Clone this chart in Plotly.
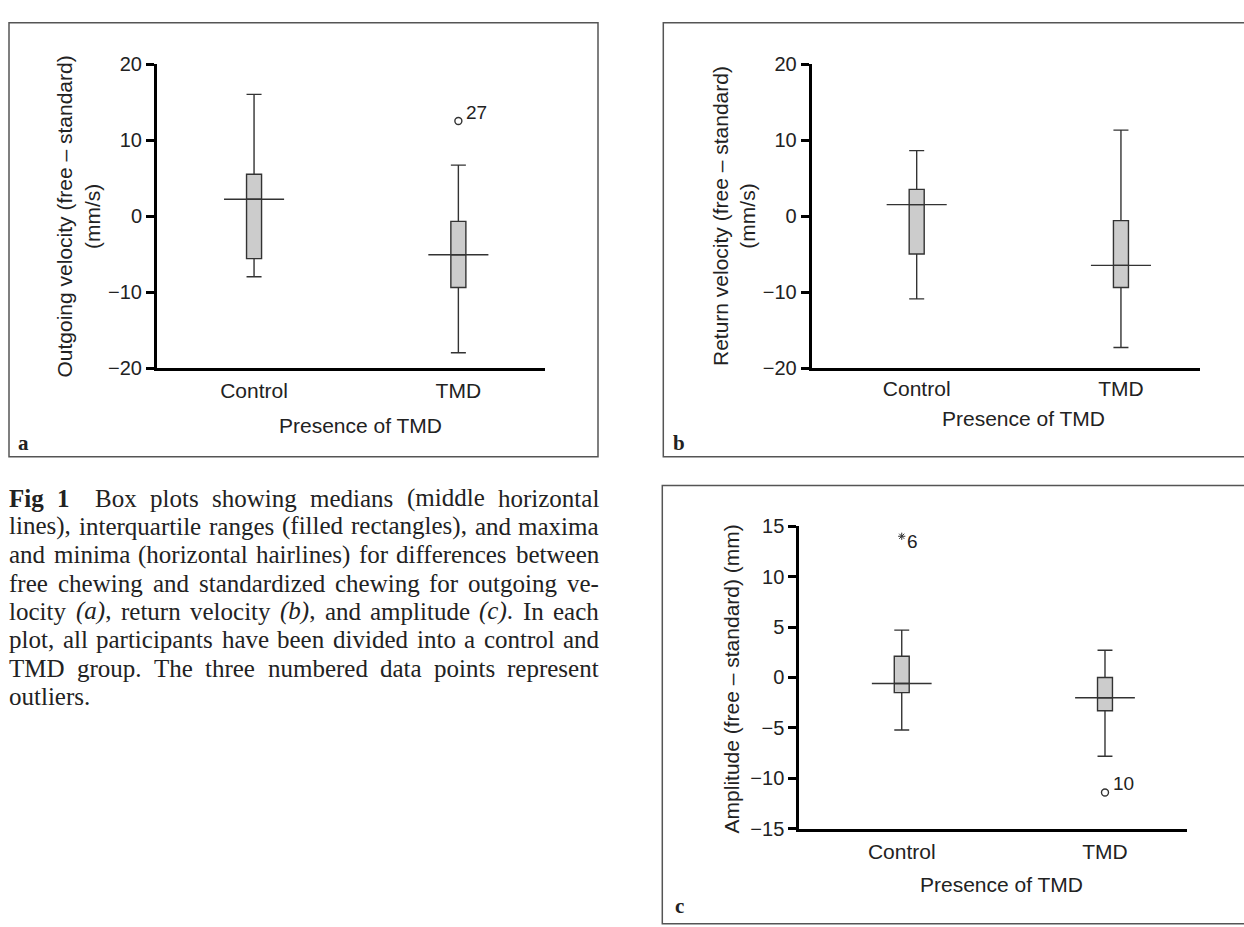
import plotly.graph_objects as go

W, H = 1244, 927

groups = ["Control", "TMD"]
group_pos = [0, 1]

# Panel a: outgoing velocity (free - standard), mm/s
a_q1 = [-5.6, -9.4]
a_median = [2.2, -5.1]
a_q3 = [5.5, -0.7]
a_low = [-8.0, -18.0]
a_high = [16.0, 6.7]
a_out_group = [1]
a_out_val = [12.5]
a_out_label = ["27"]

# Panel b: return velocity (free - standard), mm/s
b_q1 = [-5.0, -9.4]
b_median = [1.5, -6.5]
b_q3 = [3.5, -0.6]
b_low = [-10.9, -17.3]
b_high = [8.6, 11.3]

# Panel c: amplitude (free - standard), mm
c_q1 = [-1.5, -3.3]
c_median = [-0.6, -2.0]
c_q3 = [2.1, 0.0]
c_low = [-5.2, -7.8]
c_high = [4.7, 2.7]
c_out_group = [1]
c_out_val = [-11.4]
c_out_label = ["10"]
c_ext_group = [0]
c_ext_val = [14.0]
c_ext_label = ["6"]

a_ticks = [-20, -10, 0, 10, 20]
b_ticks = [-20, -10, 0, 10, 20]
c_ticks = [-15, -10, -5, 0, 5, 10, 15]

a_ytitle = "Outgoing velocity (free – standard)<br>(mm/s)"
b_ytitle = "Return velocity (free – standard)<br>(mm/s)"
c_ytitle = "Amplitude (free – standard) (mm)"
xtitle = "Presence of TMD"

caption_lines = [
    "<b>Fig 1</b>   Box plots showing medians (middle horizontal",
    "lines), interquartile ranges (filled rectangles), and maxima",
    "and minima (horizontal hairlines) for differences between",
    "free chewing and standardized chewing for outgoing ve-",
    "locity <i>(a)</i>, return velocity <i>(b)</i>, and amplitude <i>(c)</i>. In each",
    "plot, all participants have been divided into a control and",
    "TMD group. The three numbered data points represent",
    "outliers.",
]

# ---------------- style ----------------
SANS = "Liberation Sans, Arial, sans-serif"
SERIF = "Liberation Serif, Times New Roman, serif"
TXT = "#222222"
BOXLINE = "#333333"
BOX_W = 0.0735
MED_HALF = 0.0735

CAP_SIZE = 25
CAP_LEFT = 8.3
CAP_RIGHT = 598.0
CAP_TOP = 499
CAP_STEP = 29

# Times/Liberation Serif advance widths (per 1000 em)
_REG = {" ": 250, "(": 333, ")": 333, ",": 250, "-": 333, ".": 250, "1": 500,
        "a": 444, "b": 500, "c": 444, "d": 500, "e": 444, "f": 333, "g": 500, "h": 500,
        "i": 278, "j": 278, "k": 500, "l": 278, "m": 778, "n": 500, "o": 500, "p": 500,
        "q": 500, "r": 333, "s": 389, "t": 278, "u": 500, "v": 500, "w": 722, "x": 500,
        "y": 500, "z": 444, "T": 611, "M": 889, "D": 722, "F": 556, "B": 667, "I": 333}
_BOLD = {"F": 611, "i": 278, "g": 500, "1": 500, " ": 250}
_ITAL = {"(": 333, ")": 333, "a": 500, "b": 500, "c": 444}


def char_w(ch, style):
    if style == "b":
        return _BOLD.get(ch, _REG.get(ch, 500))
    if style == "i":
        return _ITAL.get(ch, _REG.get(ch, 500))
    return _REG.get(ch, 500)


def tokenize(line):
    """split a marked-up line into tokens [(chars with style)] and gap weights"""
    tokens, gaps = [], []
    cur, style, spaces = [], "", 0
    i = 0
    while i < len(line):
        for tag, st in (("<b>", "b"), ("</b>", ""), ("<i>", "i"), ("</i>", "")):
            if line.startswith(tag, i):
                style = st
                i += len(tag)
                break
        else:
            ch = line[i]
            if ch == " ":
                if cur:
                    tokens.append(cur)
                    cur = []
                spaces += 1
            else:
                if spaces and tokens:
                    gaps.append(spaces)
                spaces = 0
                cur.append((ch, style))
            i += 1
    if cur:
        tokens.append(cur)
    return tokens, gaps


def token_markup(tok):
    out, cur_style, buf = [], None, ""
    for ch, st in tok:
        if st != cur_style:
            if buf:
                out.append(("<%s>%s</%s>" % (cur_style, buf, cur_style)) if cur_style else buf)
            buf, cur_style = "", st
        buf += ch
    if buf:
        out.append(("<%s>%s</%s>" % (cur_style, buf, cur_style)) if cur_style else buf)
    return "".join(out)


def token_width(tok):
    return sum(char_w(ch, st) for ch, st in tok) * CAP_SIZE / 1000.0


def xp(px):
    return px / W


def yp(py):
    return 1 - py / H


fig = go.Figure()

panels = [
    dict(ax="", q1=a_q1, med=a_median, q3=a_q3, lo=a_low, hi=a_high),
    dict(ax="2", q1=b_q1, med=b_median, q3=b_q3, lo=b_low, hi=b_high),
    dict(ax="3", q1=c_q1, med=c_median, q3=c_q3, lo=c_low, hi=c_high),
]

for p in panels:
    xa = "x" + p["ax"]
    ya = "y" + p["ax"]
    fig.add_trace(go.Box(
        x=group_pos, q1=p["q1"], median=p["med"], q3=p["q3"],
        lowerfence=p["lo"], upperfence=p["hi"],
        width=BOX_W, whiskerwidth=1.0, boxpoints=False,
        fillcolor="#cccccc", line=dict(color=BOXLINE, width=1.4),
        xaxis=xa, yaxis=ya, showlegend=False, hoverinfo="skip",
    ))
    mx, my = [], []
    for g, m in zip(group_pos, p["med"]):
        mx += [g - MED_HALF * 2, g + MED_HALF * 2, None]
        my += [m, m, None]
    fig.add_trace(go.Scatter(
        x=mx, y=my, mode="lines", line=dict(color=BOXLINE, width=1.4),
        xaxis=xa, yaxis=ya, showlegend=False, hoverinfo="skip",
    ))

# outliers (circles)
fig.add_trace(go.Scatter(
    x=a_out_group, y=a_out_val, mode="markers",
    marker=dict(symbol="circle-open", size=7, color=BOXLINE, line=dict(width=1.4)),
    xaxis="x", yaxis="y", showlegend=False, hoverinfo="skip",
))
fig.add_trace(go.Scatter(
    x=c_out_group, y=c_out_val, mode="markers",
    marker=dict(symbol="circle-open", size=7, color=BOXLINE, line=dict(width=1.4)),
    xaxis="x3", yaxis="y3", showlegend=False, hoverinfo="skip",
))
# extreme value (asterisk)
fig.add_trace(go.Scatter(
    x=c_ext_group, y=c_ext_val, mode="markers",
    marker=dict(symbol="asterisk-open", size=6, color=BOXLINE, line=dict(width=1.0, color=BOXLINE)),
    xaxis="x3", yaxis="y3", showlegend=False, hoverinfo="skip",
))

annotations = []
for g, v, t in zip(a_out_group, a_out_val, a_out_label):
    annotations.append(dict(x=g, y=v, xref="x", yref="y", text=t, showarrow=False,
                            xanchor="left", yanchor="middle", xshift=6, yshift=9,
                            font=dict(family=SANS, size=19, color=TXT)))
for g, v, t in zip(c_out_group, c_out_val, c_out_label):
    annotations.append(dict(x=g, y=v, xref="x3", yref="y3", text=t, showarrow=False,
                            xanchor="left", yanchor="middle", xshift=6, yshift=9,
                            font=dict(family=SANS, size=19, color=TXT)))
for g, v, t in zip(c_ext_group, c_ext_val, c_ext_label):
    annotations.append(dict(x=g, y=v, xref="x3", yref="y3", text=t, showarrow=False,
                            xanchor="left", yanchor="middle", xshift=3, yshift=-5,
                            font=dict(family=SANS, size=19, color=TXT)))

# axis titles
for txt, cx, cy in [(a_ytitle, 78.5, 210), (b_ytitle, 734, 210), (c_ytitle, 731.7, 684)]:
    annotations.append(dict(x=xp(cx), y=yp(cy), xref="paper", yref="paper", text=txt,
                            showarrow=False, textangle=-90, xanchor="center", yanchor="middle",
                            font=dict(family=SANS, size=21, color=TXT)))
for cx, cy in [(360, 425), (1023, 417), (1002, 895)]:
    annotations.append(dict(x=xp(cx), y=yp(cy), xref="paper", yref="paper", text=xtitle,
                            showarrow=False, xanchor="center", yanchor="middle",
                            font=dict(family=SANS, size=21, color=TXT)))
# panel letters
for letter, cx, cy in [("a", 23, 443), ("b", 679, 442), ("c", 679, 917)]:
    annotations.append(dict(x=xp(cx), y=yp(cy), xref="paper", yref="paper", text="<b>%s</b>" % letter,
                            showarrow=False, xanchor="center", yanchor="middle",
                            font=dict(family=SERIF, size=21, color=TXT)))

# caption: justified lines (last line left-aligned), one text item per word
for li, line in enumerate(caption_lines):
    tokens, gaps = tokenize(line)
    widths = [token_width(t) for t in tokens]
    base_gaps = [g * char_w(" ", "") * CAP_SIZE / 1000.0 for g in gaps]
    if li < len(caption_lines) - 1 and gaps:
        extra = (CAP_RIGHT - CAP_LEFT - sum(widths) - sum(base_gaps)) / len(gaps)
    else:
        extra = 0.0
    x = CAP_LEFT
    ycen = CAP_TOP + CAP_STEP * li
    for k, tok in enumerate(tokens):
        annotations.append(dict(x=xp(x), y=yp(ycen), xref="paper", yref="paper",
                                text=token_markup(tok), showarrow=False,
                                xanchor="left", yanchor="middle", align="left", borderpad=0,
                                font=dict(family=SERIF, size=CAP_SIZE, color=TXT)))
        x += widths[k]
        if k < len(gaps):
            x += base_gaps[k] + extra

shapes = [
    dict(type="rect", xref="paper", yref="paper", x0=xp(9), x1=xp(598), y0=yp(456.7), y1=yp(12),
         line=dict(color="#555555", width=1.5)),
    dict(type="rect", xref="paper", yref="paper", x0=xp(663.3), x1=xp(1250), y0=yp(456.5), y1=yp(12),
         line=dict(color="#555555", width=1.5)),
    dict(type="rect", xref="paper", yref="paper", x0=xp(662.3), x1=xp(1250), y0=yp(935), y1=yp(486),
         line=dict(color="#555555", width=1.5)),
]


def xaxis_cfg(d0, d1, r0, r1, anchor, standoff):
    return dict(domain=[xp(d0), xp(d1)], range=[r0, r1], anchor=anchor,
                tickvals=group_pos, ticktext=groups, ticks="", showgrid=False, zeroline=False,
                showline=True, linecolor="#000000", linewidth=3,
                ticklabelstandoff=standoff,
                tickfont=dict(family=SANS, size=21, color=TXT), fixedrange=True)


def yaxis_cfg(p0, p1, r0, r1, tv, anchor):
    return dict(domain=[yp(p1), yp(p0)], range=[r0, r1], anchor=anchor,
                tickvals=tv, ticks="outside", ticklen=8, tickwidth=3, tickcolor="#000000",
                showgrid=False, zeroline=False, showline=True, linecolor="#000000", linewidth=3,
                tickfont=dict(family=SANS, size=20, color=TXT), fixedrange=True)


fig.update_layout(
    width=W, height=H, margin=dict(l=0, r=0, t=0, b=0),
    paper_bgcolor="white", plot_bgcolor="white",
    xaxis=xaxis_cfg(157, 545, -0.475, 1.424, "y", 2),
    yaxis=yaxis_cfg(54.3, 365.7, -20, 20, a_ticks, "x"),
    xaxis2=xaxis_cfg(811.7, 1200, -0.514, 1.387, "y2", 0),
    yaxis2=yaxis_cfg(54.3, 365.7, -20, 20, b_ticks, "x2"),
    xaxis3=xaxis_cfg(799.3, 1186.7, -0.504, 1.402, "y3", 2),
    yaxis3=yaxis_cfg(527.7, 837.7, -15, 15, c_ticks, "x3"),
    annotations=annotations,
    shapes=shapes,
)

fig.write_html("out.html", config={"displayModeBar": False})
